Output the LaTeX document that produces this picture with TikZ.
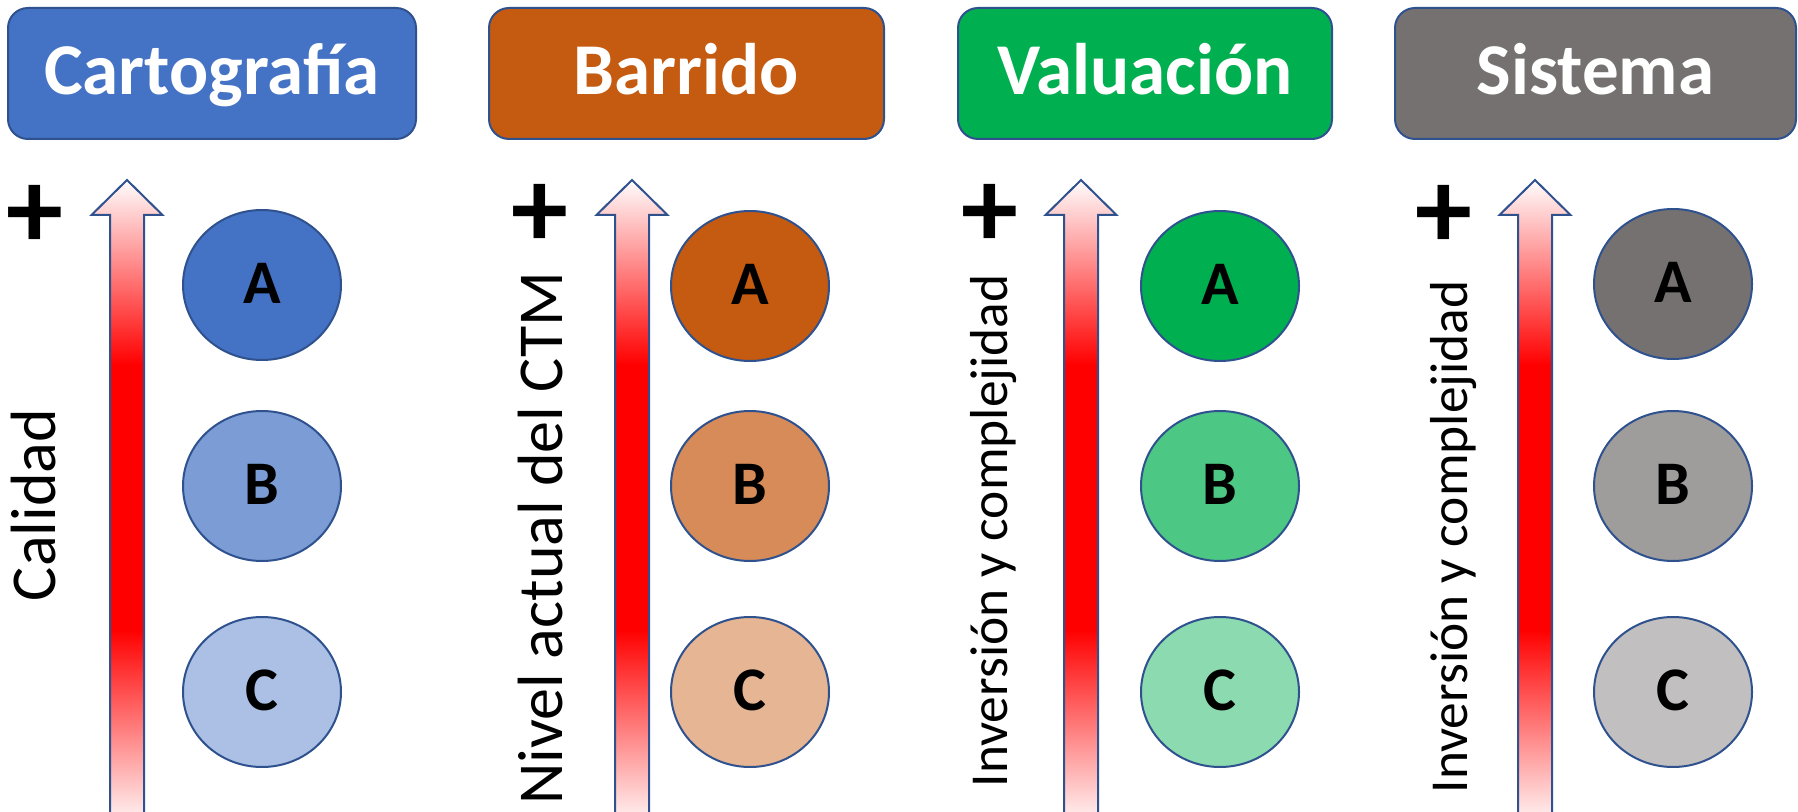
\documentclass[tikz,border=0pt]{standalone}
\usepackage{fontspec}
\setmainfont{Carlito}
\usetikzlibrary{shapes.geometric}
\definecolor{edgeblue}{HTML}{2F528F}
\definecolor{cBlue}{HTML}{4472C4}
\definecolor{cOrange}{HTML}{C55A11}
\definecolor{cGreen}{HTML}{00B050}
\definecolor{cGray}{HTML}{767171}
\newcommand\gradarrow[1]{%
  \begin{scope}
    \clip (#1,180) -- (#1+35.5,215) -- (#1+17,215) -- (#1+17,830) -- (#1-17,830) -- (#1-17,215) -- (#1-35.5,215) -- cycle;
    \shade[top color=white, bottom color=red] (#1-40,178) rectangle (#1+40,365);
    \fill[red] (#1-40,364) rectangle (#1+40,631);
    \shade[top color=red, bottom color=white] (#1-40,630) rectangle (#1+40,830);
  \end{scope}
  \draw[arrowline] (#1,180) -- (#1+35.5,215) -- (#1+17,215) -- (#1+17,830) -- (#1-17,830) -- (#1-17,215) -- (#1-35.5,215) -- cycle;
}
\begin{document}
\begin{tikzpicture}[x=0.5pt,y=-0.5pt,
  titlebox/.style={draw=edgeblue, line width=1pt, rounded corners=10pt, text=white,
    font=\bfseries\fontsize{36.5}{36.5}\selectfont, text height=23.5pt, text depth=2.5pt, inner sep=0pt},
  ell/.style={ellipse, draw=edgeblue, line width=1pt, minimum width=79pt, minimum height=75pt,
    inner sep=0pt, font=\bfseries\fontsize{31}{31}\selectfont, text height=20pt, text depth=1.5pt},
  arrowline/.style={draw=edgeblue, line width=1pt, line join=miter},
  sidelabel/.style={rotate=90, anchor=base, inner sep=0pt},
  bigside/.style={sidelabel, font=\fontsize{32}{32}\selectfont},
  smallside/.style={sidelabel, font=\fontsize{26.7}{26.7}\selectfont},
  plussign/.style={inner sep=0pt, font=\bfseries\fontsize{57}{57}\selectfont}]
\useasboundingbox (0,0) rectangle (1798,812);
\fill[white] (0,0) rectangle (1798,812);

% titles
\node[titlebox, fill=cBlue, minimum width=204pt, minimum height=65.5pt] (t1) at (212,73.5) {Cartografía};
\node[titlebox, fill=cOrange, minimum width=197.5pt, minimum height=65.5pt] (t2) at (686.5,73.5) {Barrido};
\node[titlebox, fill=cGreen, minimum width=187pt, minimum height=65.5pt] (t3) at (1145,73.5) {Valuación};
\node[titlebox, fill=cGray, minimum width=200.5pt, minimum height=65.5pt] (t4) at (1595.5,73.5) {Sistema};

% arrows
\gradarrow{127}
\gradarrow{632}
\gradarrow{1081}
\gradarrow{1535}

% plus signs
\node[plussign] (p1) at (35,217) {+};
\node[plussign] (p2) at (540,216) {+};
\node[plussign] (p3) at (990,216) {+};
\node[plussign] (p4) at (1444,217) {+};

% side labels
\node[bigside] (l1) at (55,505) {Calidad};
\node[bigside] (l2) at (562,538) {Nivel actual del CTM};
\node[smallside] (l3) at (1007,531) {Inversión y complejidad};
\node[smallside] (l4) at (1467,537) {Inversión y complejidad};

% circles
\node[ell, fill=cBlue] (a1) at (262,285) {A};
\node[ell, fill=cBlue!70!white] (b1) at (262,486) {B};
\node[ell, fill=cBlue!45!white] (c1) at (262,692) {C};

\node[ell, fill=cOrange] (a2) at (750,286) {A};
\node[ell, fill=cOrange!70!white] (b2) at (750,486) {B};
\node[ell, fill=cOrange!45!white] (c2) at (750,692) {C};

\node[ell, fill=cGreen] (a3) at (1220,286) {A};
\node[ell, fill=cGreen!70!white] (b3) at (1220,486) {B};
\node[ell, fill=cGreen!45!white] (c3) at (1220,692) {C};

\node[ell, fill=cGray] (a4) at (1673,284) {A};
\node[ell, fill=cGray!70!white] (b4) at (1673,486) {B};
\node[ell, fill=cGray!45!white] (c4) at (1673,692) {C};
\end{tikzpicture}
\end{document}
